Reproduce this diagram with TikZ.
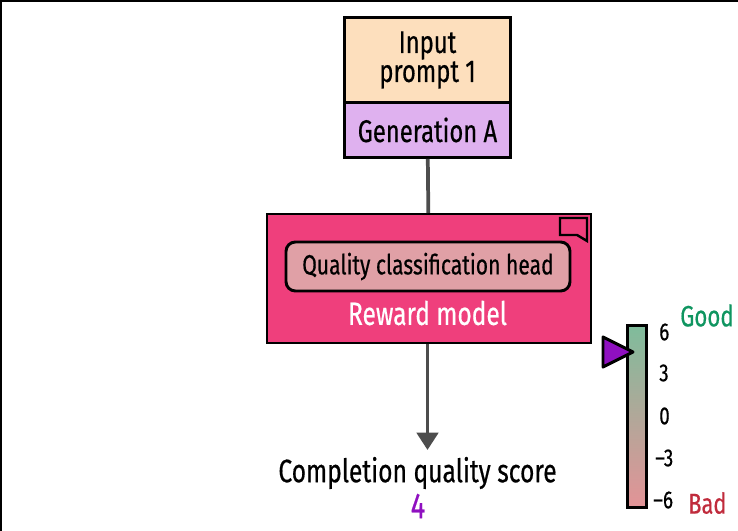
\documentclass[tikz,border=0pt]{standalone}
\usepackage{fontspec}
\setmainfont[FakeStretch=0.76,FakeBold=0.5]{Fira Sans}
\usetikzlibrary{positioning,arrows.meta}
\definecolor{promptcol}{HTML}{FDDFBD}
\definecolor{gencol}{HTML}{DFB1EF}
\definecolor{rewardcol}{HTML}{EF3F7C}
\definecolor{headcol}{HTML}{E0A0A6}
\definecolor{goodcol}{HTML}{0F9560}
\definecolor{badcol}{HTML}{C02B3C}
\definecolor{scorecol}{HTML}{8F10C0}
\definecolor{linecol}{HTML}{4D4D4D}
\definecolor{topcol}{HTML}{7FBC9B}
\definecolor{botcol}{HTML}{E39397}
\begin{document}
\begin{tikzpicture}[x=0.75pt,y=-0.75pt,node distance=0pt,
                    box node/.style={draw=black,line width=2.1pt,minimum width=125pt,align=center,font=\fontsize{23.5}{19.5}\selectfont,inner sep=0pt},
                    tick node/.style={anchor=west,font=\fontsize{18.5}{20}\selectfont,inner sep=0pt},
                    flow line/.style={draw=linecol,line width=2.8pt}]

  \useasboundingbox (0,0) rectangle (738,531);
  \draw[line width=1.2pt] (738,1) -- (1,1) -- (1,531);

  \node[box node,fill=promptcol,minimum height=63.75pt] (prompt) at (427.5,60) {Input\\prompt 1};
  \node[box node,fill=gencol,minimum height=41.25pt] (gen) [below=-2.1pt of prompt] {Generation A};

  \node[draw=black,line width=1.5pt,fill=rewardcol,minimum width=243pt,minimum height=96.75pt,inner sep=0pt] (reward) at (429,278.5) {};
  \node[draw=black,line width=2.2pt,fill=headcol,rounded corners=7pt,minimum width=213pt,minimum height=36.75pt,inner sep=0pt,font=\fontsize{20.8}{22}\selectfont] (head) at (428,266.5) {Quality classification head};
  \node[text=white,font=\fontsize{24.2}{26}\selectfont,inner sep=0pt] (rewardlabel) at (427.5,313) {Reward model};
  \draw[line width=1.8pt] (560,218) -- (587,218) -- (587,241) -- (577,235) -- (560,235) -- cycle;

  \coordinate (tip) at (427.5,450);
  \node[font=\fontsize{24.3}{26}\selectfont,inner sep=0pt] (score) at (417.5,473) {Completion quality score};
  \node[text=scorecol,font=\fontsize{27}{29}\selectfont,inner sep=0pt] (value) at (418,506) {4};

  \draw[flow line] (gen) -- (reward);
  \draw[flow line,-{Triangle[length=13pt,width=16pt]},linecol] (reward.south -| tip) -- (tip);

  % colour scale
  \node[draw=black,line width=2.4pt,minimum width=14.5pt,minimum height=136pt,inner sep=0pt,top color=topcol,bottom color=botcol] (scale) at (637,416.5) {};
  \coordinate (marker) at (633,352);
  \draw[draw=black,line width=2.2pt,fill=scorecol,line join=round] (marker) -- (603,337) -- (603,367) -- cycle;

  \node[tick node] (t6) at (659,332) {6};
  \node[tick node] (t3) at (659,373) {3};
  \node[tick node] (t0) at (659,416) {0};
  \node[tick node] (tm3) at (655,458) {–3};
  \node[tick node] (tm6) at (653,500) {–6};
  \node[text=goodcol,font=\fontsize{22}{24}\selectfont,inner sep=0pt,anchor=west] (good) at (680,315.5) {Good};
  \node[text=badcol,font=\fontsize{21.5}{24}\selectfont,inner sep=0pt,anchor=west] (bad) at (688,503) {Bad};

\end{tikzpicture}
\end{document}
